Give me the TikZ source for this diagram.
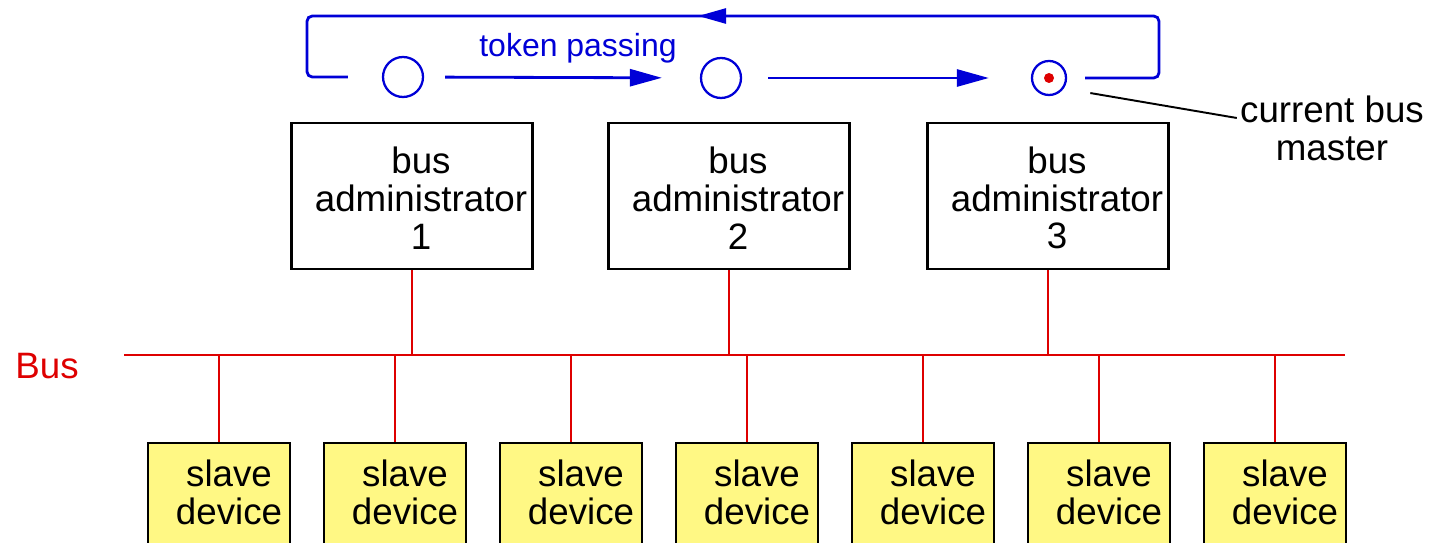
\documentclass[tikz,border=0pt]{standalone}
\usepackage{fontspec}
\setmainfont{Liberation Sans}
\usetikzlibrary{arrows.meta,positioning,calc,decorations.markings}
\definecolor{tokenblue}{RGB}{0,0,215}
\definecolor{busred}{RGB}{222,0,0}
\definecolor{slaveyellow}{RGB}{255,248,132}

\begin{document}
\begin{tikzpicture}[x=0.02cm, y=-0.02cm,
  every node/.style={font=\fontsize{20.9}{21.5}\selectfont},
  adminbox/.style={draw, line width=1.3pt, minimum width=4.82cm, minimum height=2.92cm, inner sep=0pt},
  slavebox/.style={draw, line width=1.3pt, fill=slaveyellow, minimum width=2.84cm, minimum height=2.4cm, anchor=north, inner sep=0pt},
  boxtext/.style={align=center, inner sep=0pt},
  busline/.style={busred, line width=1.1pt},
  tokenline/.style={tokenblue, line width=1.6pt},
  tokencirc/.style={circle, draw=tokenblue, line width=1.3pt, minimum size=0.8cm, inner sep=0pt},
  tokentip/.style={-{Triangle[length=0.64cm,width=0.34cm]}}]
\useasboundingbox (0,0) rectangle (1429,543);
\clip (0,0) rectangle (1429,543);

% the bus
\coordinate (busL) at (124,355);
\coordinate (busR) at (1345,355);
\draw[busline] (busL) -- (busR);
\node[text=busred] (buslabel) at (47,366) {Bus};

% bus administrators
\foreach \i/\x in {1/412,2/729,3/1048} {
  \node[adminbox] (adm\i) at (\x,196) {};
  \node[boxtext] (adm\i text) at ($(adm\i.center)+(9,2)$) {bus\\administrator\\\i};
  \draw[busline] (adm\i.south) -- (adm\i.south |- busL);
}

% slave devices
\foreach \i in {1,...,7} {
  \pgfmathsetmacro\sx{219+176*(\i-1)}
  \node[slavebox] (slave\i) at (\sx,442) {};
  \node[boxtext] (slave\i text) at ($(slave\i.north)+(10,50)$) {slave\\device};
  \draw[busline] (slave\i.north) -- (slave\i.north |- busL);
}

% token ring
\node[tokencirc] (tok1) at (403,77) {};
\node[tokencirc] (tok2) at (721,78) {};
\node[tokencirc, minimum size=0.68cm] (tok3) at (1049,78) {};
\node[circle, fill=busred, minimum size=0.2cm, inner sep=0pt] (tokdot) at (tok3) {};
\node[text=tokenblue, font=\fontsize{18.2}{20}\selectfont] (passing) at (578,48) {token passing};
\draw[tokenline, tokentip, shorten <=0.42cm, shorten >=0.76cm] (tok1) -- (tok2);
\draw[tokenline, tokentip, shorten <=0.52cm, shorten >=0.84cm] (tok2) -- (tok3);
\coordinate (loopNE) at (1159,16);
\coordinate (loopNW) at (307,16);
\draw[tokenline, rounded corners=3pt, postaction={decorate},
  decoration={markings, mark=at position 0.548 with {\arrow{Triangle[length=0.56cm,width=0.3cm]}}}]
  ($(tok3.east)+(18,0)$) -- (tok3.east -| loopNE) -- (loopNE) -- (loopNW)
  -- (tok1.west -| loopNW) -- ($(tok1.west)+(-34,0)$);

% current master
\node[align=center, inner sep=0pt] (master) at (1332,128) {current bus\\master};
\draw[line width=1.1pt] ($(tok3.center)+(20:44)$) -- ($(master.west)+(-3,-10)$);
\end{tikzpicture}
\end{document}
